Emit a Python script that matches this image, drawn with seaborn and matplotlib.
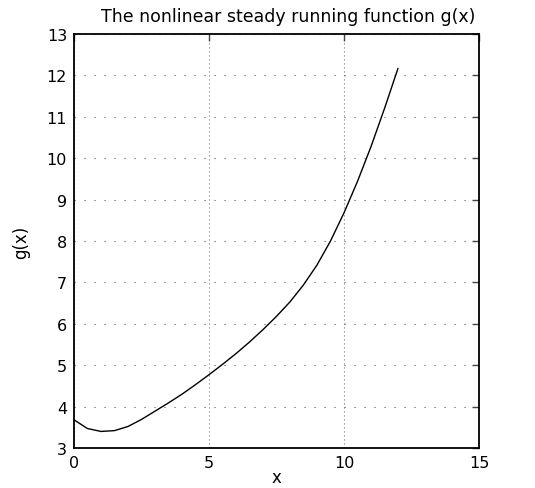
import matplotlib
matplotlib.use("Agg")
import matplotlib.pyplot as plt
import seaborn as sns
import pandas as pd

x_vals = [0, 0.5, 1, 1.5, 2, 2.5, 3, 3.5, 4, 4.5, 5, 5.5, 6, 6.5, 7, 7.5, 8,
          8.5, 9, 9.5, 10, 10.5, 11, 11.5, 12]
g_vals = [3.68, 3.47, 3.40, 3.42, 3.52, 3.69, 3.89, 4.09, 4.30, 4.53, 4.77,
          5.02, 5.28, 5.56, 5.86, 6.18, 6.53, 6.94, 7.42, 8.00, 8.68, 9.44,
          10.28, 11.20, 12.17]
x_ticks = [0, 5, 10, 15]
y_ticks = [3, 4, 5, 6, 7, 8, 9, 10, 11, 12, 13]

sns.set_style("white")
plt.rcParams['font.family'] = ['DejaVu Sans']
plt.rcParams['text.color'] = 'black'
plt.rcParams['axes.labelcolor'] = 'black'

df = pd.DataFrame({"x": x_vals, "g": g_vals})

fig = plt.figure(figsize=(5.35, 4.89), dpi=100)
ax = fig.add_axes([74/535, 40/489, 405/535, 414/489])
sns.lineplot(data=df, x="x", y="g", ax=ax, color="black", linewidth=1.0)

ax.set_xlim(0, 15)
ax.set_ylim(3, 13)
ax.set_xticks(x_ticks)
ax.set_yticks(y_ticks)
ax.tick_params(direction="in", length=5, width=1, top=True, right=True,
               labelsize=11.5, labelcolor="black", color="#444444", pad=5)
ax.xaxis.grid(True, linestyle=(0, (1, 2.6)), color="#777777", linewidth=0.8)
ax.yaxis.grid(True, linestyle=(0, (1, 8)), color="#555555", linewidth=0.8)
for s in ax.spines.values():
    s.set_color("black")
    s.set_linewidth(1.3)
    s.set_visible(True)

ax.set_xlabel("x", fontsize=12, color="black")
ax.xaxis.set_label_coords(0.5, -0.082)
ax.xaxis.label.set_va("baseline")
ax.set_ylabel("g(x)", fontsize=12, labelpad=12, color="black")
ax.set_title("The nonlinear steady running function g(x)", fontsize=12.5,
             pad=9, x=0.53, color="black")

fig.savefig("out.png", dpi=100)
